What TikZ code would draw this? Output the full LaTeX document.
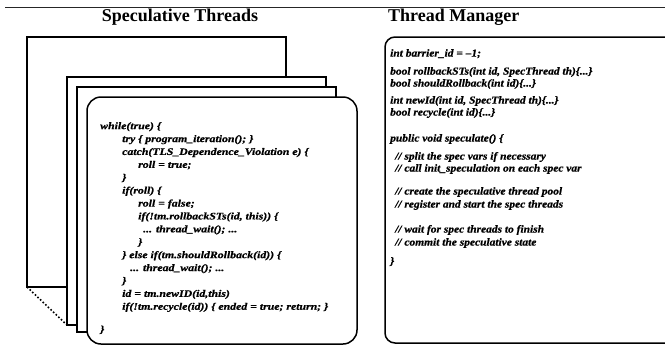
\documentclass[tikz,border=0pt]{standalone}
\usepackage{fontspec}
\setmainfont{Liberation Serif}
\newfontfamily\codewide[FakeStretch=1.18,FakeBold=0.8]{Liberation Serif}
\newfontfamily\codeplain[FakeStretch=1.08,FakeBold=0.8]{Liberation Serif}
\begin{document}
\begin{tikzpicture}[x=1pt,y=-1pt,
  page/.style={draw=black,line width=1.5pt,fill=white},
  heading/.style={font=\fontsize{18}{20}\selectfont\bfseries,inner sep=0pt,anchor=base},
  codeleft/.style={font=\codewide\fontsize{10}{12.9}\selectfont\bfseries\itshape,
                   align=left,inner sep=0pt,anchor=north west},
  coderight/.style={font=\codeplain\fontsize{10.6}{12}\selectfont\bfseries\itshape,
                    align=left,inner sep=0pt,anchor=north west}]
\useasboundingbox (0,0) rectangle (665,346);
\clip (0,0) rectangle (665,346);
\fill[white] (0,0) rectangle (665,346);

% rule above the headings
\draw[line width=0.9pt,black!85] (5,7) coordinate (ruleL) -- (665,7) coordinate (ruleR);

\node[heading] (specTitle) at (180,21.5) {Speculative Threads};
\node[heading,anchor=base west] (mgrTitle) at (388,21.5) {Thread Manager};

% stack of speculative thread pages, back to front
\draw[page] (27,37) rectangle (286,287);
\coordinate (foldA) at (27,287);
\draw[page] (67,77) rectangle (326,325);
\coordinate (foldB) at (67,325);
\draw[line width=1.6pt,dotted] (foldA) -- (foldB);
\draw[page] (77,87) rectangle (336,332);
\draw[page,rounded corners=14pt] (87,97) rectangle (357,344);

\node[codeleft] (threadCode) at (100,122) {%
while(true) \{\\
\hspace*{22pt}try \{ program\_iteration(); \}\\
\hspace*{22pt}catch(TLS\_Dependence\_Violation e) \{\\
\hspace*{38pt}roll = true;\\
\hspace*{22pt}\}\\
\hspace*{22pt}if(roll) \{\\
\hspace*{38pt}roll = false;\\
\hspace*{38pt}if(!tm.rollbackSTs(id, this)) \{\\
\hspace*{43pt}... thread\_wait(); ...\\
\hspace*{38pt}\}\\
\hspace*{22pt}\} else if(tm.shouldRollback(id)) \{\\
\hspace*{30pt}... thread\_wait(); ...\\
\hspace*{22pt}\}\\
\hspace*{22pt}id = tm.newID(id,this)\\
\hspace*{22pt}if(!tm.recycle(id)) \{ ended = true; return; \}\\[10pt]
\}};

% thread manager panel (runs past the right edge)
\draw[page,rounded corners=10pt] (385,37) rectangle (700,343);

\node[coderight] (mgrCode) at (390,49) {%
int barrier\_id = –1;\\[6pt]
bool rollbackSTs(int id, SpecThread th)\{...\}\\
bool shouldRollback(int id)\{...\}\\[5pt]
int newId(int id, SpecThread th)\{...\}\\
bool recycle(int id)\{...\}\\[14pt]
public void speculate() \{\\[6pt]
\hspace*{5pt}// split the spec vars if necessary\\
\hspace*{5pt}// call init\_speculation on each spec var\\[11pt]
\hspace*{5pt}// create the speculative thread pool\\[1pt]
\hspace*{5pt}// register and start the spec threads\\[13pt]
\hspace*{5pt}// wait for spec threads to finish\\[1pt]
\hspace*{5pt}// commit the speculative state\\[7pt]
\}};
\end{tikzpicture}
\end{document}
